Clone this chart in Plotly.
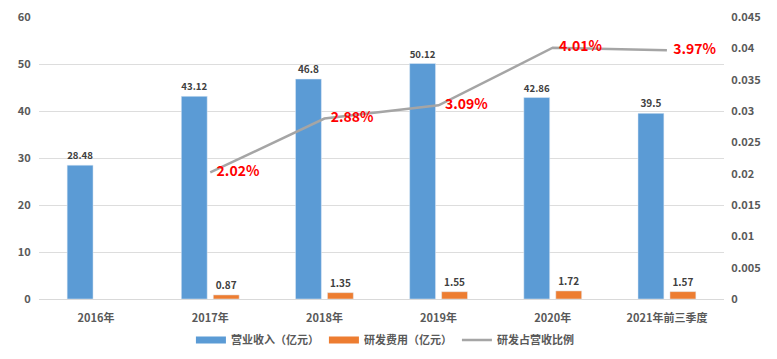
import plotly.graph_objects as go

categories = ["2016年", "2017年", "2018年", "2019年", "2020年", "2021年前三季度"]
revenue = [28.48, 43.12, 46.8, 50.12, 42.86, 39.5]
rd_cost = [None, 0.87, 1.35, 1.55, 1.72, 1.57]
rd_ratio = [None, 0.0202, 0.0288, 0.0309, 0.0401, 0.0397]
ratio_labels = ["", "2.02%", "2.88%", "3.09%", "4.01%", "3.97%"]
rev_labels = ["28.48", "43.12", "46.8", "50.12", "42.86", "39.5"]
rd_labels = ["", "0.87", "1.35", "1.55", "1.72", "1.57"]

FONT = "Noto Sans CJK SC, Microsoft YaHei, sans-serif"
BLUE, ORANGE, GRAY = "#5B9BD5", "#ED7D31", "#A5A5A5"
PAD = "\u00a0\u00a0"

fig = go.Figure()
fig.add_trace(go.Bar(
    x=categories, y=revenue, name="营业收入（亿元）", showlegend=False,
    marker=dict(color=BLUE),
    text=rev_labels, textposition="outside", cliponaxis=False,
    textfont=dict(color="#404040", size=10, family=FONT, weight="bold"),
))
fig.add_trace(go.Bar(
    x=categories, y=rd_cost, name="研发费用（亿元）", showlegend=False,
    marker=dict(color=ORANGE),
    text=rd_labels, textposition="outside", cliponaxis=False,
    textfont=dict(color="#404040", size=10, family=FONT, weight="bold"),
))
fig.add_trace(go.Scatter(
    x=categories, y=rd_ratio, name="研发占营收比例", yaxis="y2", showlegend=False,
    mode="lines+text", line=dict(color=GRAY, width=2.5),
    text=[PAD + t if t else "" for t in ratio_labels],
    textposition="middle right", cliponaxis=False,
    textfont=dict(color="#FF0000", size=14, family=FONT, weight="bold"),
))
# legend entries (wide rectangle icons like the original)
for nm, col, w in [("营业收入（亿元）", BLUE, 7), ("研发费用（亿元）", ORANGE, 7), ("研发占营收比例", GRAY, 2.5)]:
    fig.add_trace(go.Scatter(x=[None], y=[None], name=nm, mode="lines",
                             line=dict(color=col, width=w), showlegend=True))

fig.update_layout(
    width=777, height=359,
    margin=dict(l=39, r=53, t=17, b=60, autoexpand=False),
    paper_bgcolor="white", plot_bgcolor="white",
    font=dict(family=FONT, color="#595959", size=11, weight="bold"),
    barmode="group", bargap=0.44, bargroupgap=0.19,
    showlegend=True,
    legend=dict(orientation="h", x=0.505, xanchor="center", y=-0.145, yanchor="middle",
                font=dict(size=11, color="#595959", weight="bold"), traceorder="normal",
                itemwidth=30),
    xaxis=dict(showgrid=False, showline=True, linecolor="#D9D9D9", linewidth=1,
               ticks="outside", ticklen=9, tickcolor="rgba(0,0,0,0)", automargin=False,
               tickfont=dict(size=11, color="#595959", weight="bold")),
    yaxis=dict(range=[0, 60], dtick=10, showgrid=True, gridcolor="#DDDDDD", gridwidth=1,
               zeroline=False, showline=False, ticks="outside", ticklen=5,
               tickcolor="rgba(0,0,0,0)", automargin=False,
               tickfont=dict(size=11, color="#595959", weight="bold")),
    yaxis2=dict(range=[0, 0.045], dtick=0.005, overlaying="y", side="right",
                showgrid=False, zeroline=False, showline=False, ticks="outside", ticklen=4,
                tickcolor="rgba(0,0,0,0)", automargin=False,
                tickformat="~g", tickfont=dict(size=11, color="#595959", weight="bold")),
)

fig.write_html("out.html", config={"displayModeBar": False},
               post_script="document.body.style.margin='0';")
